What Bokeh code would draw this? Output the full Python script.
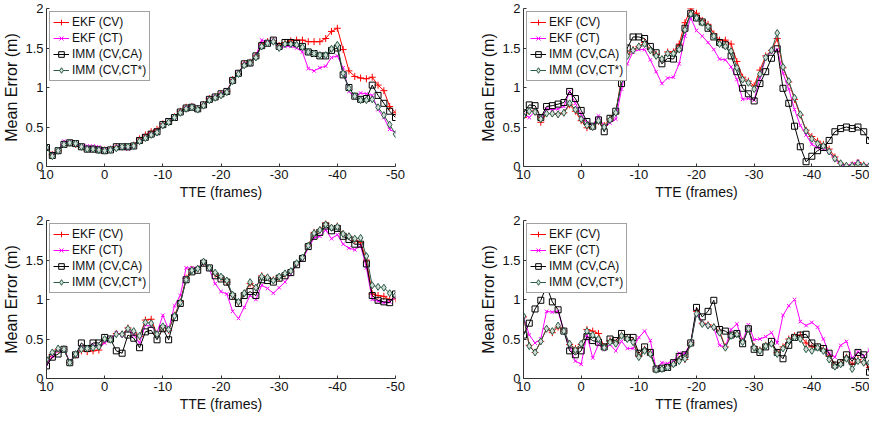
from bokeh.plotting import figure
from bokeh.models import Range1d, FixedTicker, Legend, LegendItem
from bokeh.layouts import column, row
from bokeh.embed import file_html
from bokeh.resources import INLINE

# ---------------- data ----------------
frames = list(range(10, -51, -1))          # TTE (frames), 10 ... -50
x_ticks = [10, 0, -10, -20, -30, -40, -50]
x_tick_labels = ["10", "0", "-10", "-20", "-30", "-40", "-50"]
y_ticks = [0, 0.5, 1, 1.5, 2]
y_tick_labels = ["0", "0.5", "1", "1.5", "2"]
series_names = ["EKF (CV)", "EKF (CT)", "IMM (CV,CA)", "IMM (CV,CT*)"]

# top-left panel
tl_ekf_cv = [0.24, 0.15, 0.20, 0.28, 0.30, 0.28, 0.25, 0.22, 0.22, 0.21,
             0.21, 0.22, 0.25, 0.25, 0.25, 0.27, 0.35, 0.40, 0.44, 0.47,
             0.54, 0.57, 0.63, 0.70, 0.75, 0.76, 0.73, 0.78, 0.86, 0.88,
             0.92, 0.95, 1.10, 1.18, 1.30, 1.32, 1.40, 1.55, 1.58, 1.59,
             1.53, 1.57, 1.59, 1.60, 1.60, 1.58, 1.58, 1.58, 1.62, 1.71,
             1.75, 1.48, 1.21, 1.14, 1.12, 1.11, 1.13, 1.03, 0.96, 0.76,
             0.68]
tl_ekf_ct = [0.23, 0.15, 0.20, 0.32, 0.31, 0.29, 0.26, 0.26, 0.26, 0.25,
             0.21, 0.22, 0.25, 0.25, 0.22, 0.26, 0.33, 0.37, 0.41, 0.44,
             0.53, 0.57, 0.62, 0.69, 0.74, 0.76, 0.72, 0.78, 0.85, 0.88,
             0.92, 0.95, 1.09, 1.18, 1.30, 1.30, 1.40, 1.60, 1.57, 1.60,
             1.50, 1.52, 1.52, 1.50, 1.45, 1.24, 1.21, 1.25, 1.27, 1.38,
             1.40, 1.25, 0.95, 0.88, 0.93, 0.92, 0.90, 0.72, 0.62, 0.47,
             0.43]
tl_imm_ca = [0.24, 0.14, 0.20, 0.28, 0.30, 0.29, 0.25, 0.22, 0.22, 0.21,
             0.20, 0.21, 0.25, 0.25, 0.25, 0.26, 0.33, 0.37, 0.41, 0.44,
             0.53, 0.57, 0.62, 0.69, 0.74, 0.75, 0.73, 0.78, 0.85, 0.88,
             0.92, 0.95, 1.09, 1.18, 1.30, 1.31, 1.40, 1.53, 1.56, 1.60,
             1.52, 1.57, 1.57, 1.56, 1.52, 1.45, 1.43, 1.40, 1.40, 1.47,
             1.50, 1.16, 1.00, 0.89, 0.85, 0.86, 1.03, 0.90, 0.80, 0.70,
             0.62]
tl_imm_ct = [0.24, 0.13, 0.20, 0.28, 0.30, 0.29, 0.25, 0.22, 0.22, 0.21,
             0.20, 0.21, 0.23, 0.25, 0.25, 0.26, 0.32, 0.36, 0.40, 0.43,
             0.52, 0.56, 0.62, 0.68, 0.73, 0.75, 0.72, 0.77, 0.84, 0.87,
             0.90, 0.94, 1.08, 1.17, 1.28, 1.31, 1.38, 1.52, 1.56, 1.58,
             1.50, 1.55, 1.55, 1.54, 1.51, 1.45, 1.43, 1.41, 1.41, 1.49,
             1.54, 1.18, 0.99, 0.89, 0.84, 0.84, 0.85, 0.75, 0.65, 0.53,
             0.41]

# top-right panel
tr_ekf_cv = [0.62, 0.70, 0.70, 0.56, 0.67, 0.67, 0.66, 0.68, 0.78, 0.70,
             0.58, 0.49, 0.50, 0.57, 0.52, 0.60, 0.68, 1.12, 1.42, 1.48,
             1.52, 1.57, 1.48, 1.42, 1.35, 1.45, 1.45, 1.55, 1.82, 2.00,
             1.94, 1.85, 1.80, 1.68, 1.60, 1.60, 1.55, 1.33, 1.13, 1.08,
             1.02, 1.22, 1.40, 1.47, 1.62, 1.25, 1.07, 0.85, 0.65, 0.46,
             0.38, 0.32, 0.28, 0.22, 0.12, 0.04, 0.01, 0.02, 0.05, 0.02,
             0.01]
tr_ekf_ct = [0.66, 0.62, 0.70, 0.60, 0.73, 0.72, 0.73, 0.76, 0.95, 0.80,
             0.66, 0.55, 0.52, 0.64, 0.50, 0.55, 0.60, 0.98, 1.30, 1.45,
             1.48, 1.48, 1.35, 1.20, 1.05, 1.12, 1.13, 1.30, 1.65, 1.88,
             1.72, 1.65, 1.57, 1.48, 1.36, 1.35, 1.26, 1.10, 0.85, 0.86,
             0.84, 1.12, 1.38, 1.45, 1.48, 1.18, 0.98, 0.72, 0.52, 0.40,
             0.28, 0.24, 0.22, 0.18, 0.09, 0.02, 0.01, 0.03, 0.06, 0.01,
             0.02]
tr_imm_ca = [0.68, 0.78, 0.77, 0.62, 0.76, 0.77, 0.79, 0.81, 0.95, 0.86,
             0.71, 0.57, 0.51, 0.59, 0.44, 0.61, 0.70, 1.05, 1.50, 1.64,
             1.64, 1.62, 1.52, 1.44, 1.30, 1.37, 1.36, 1.50, 1.75, 1.94,
             1.88, 1.83, 1.75, 1.64, 1.57, 1.54, 1.40, 1.20, 0.99, 0.92,
             0.83, 1.05, 1.20, 1.37, 1.49, 0.99, 0.80, 0.51, 0.25, 0.06,
             0.13, 0.20, 0.24, 0.33, 0.44, 0.48, 0.50, 0.48, 0.50, 0.44,
             0.33]
tr_imm_ct = [0.64, 0.70, 0.69, 0.60, 0.67, 0.67, 0.66, 0.68, 0.80, 0.72,
             0.60, 0.52, 0.50, 0.58, 0.50, 0.59, 0.68, 1.10, 1.40, 1.47,
             1.52, 1.55, 1.47, 1.40, 1.36, 1.43, 1.43, 1.48, 1.73, 1.93,
             1.88, 1.82, 1.77, 1.65, 1.55, 1.52, 1.46, 1.25, 1.10, 1.06,
             0.98, 1.17, 1.38, 1.47, 1.69, 1.26, 1.08, 0.87, 0.66, 0.45,
             0.35, 0.29, 0.26, 0.19, 0.10, 0.04, 0.01, 0.01, 0.04, 0.01,
             0.01]

# bottom-left panel
bl_ekf_cv = [0.23, 0.30, 0.37, 0.37, 0.20, 0.30, 0.35, 0.34, 0.35, 0.36,
             0.48, 0.50, 0.57, 0.56, 0.64, 0.58, 0.53, 0.74, 0.75, 0.56,
             0.65, 0.61, 0.80, 0.97, 1.27, 1.38, 1.39, 1.47, 1.40, 1.32,
             1.28, 1.22, 1.05, 0.96, 1.08, 1.20, 1.15, 1.30, 1.28, 1.25,
             1.28, 1.32, 1.35, 1.45, 1.52, 1.68, 1.85, 1.88, 1.97, 1.91,
             1.93, 1.83, 1.80, 1.75, 1.72, 1.50, 1.07, 1.05, 1.04, 1.00,
             1.01]
bl_ekf_ct = [0.18, 0.28, 0.35, 0.37, 0.22, 0.30, 0.40, 0.36, 0.42, 0.40,
             0.45, 0.50, 0.58, 0.55, 0.62, 0.55, 0.45, 0.68, 0.66, 0.58,
             0.80, 0.62, 0.92, 1.05, 1.40, 1.40, 1.40, 1.47, 1.38, 1.20,
             1.10, 1.07, 0.85, 0.76, 0.90, 1.05, 1.00, 1.18, 1.14, 1.08,
             1.15, 1.22, 1.32, 1.45, 1.50, 1.65, 1.78, 1.80, 1.88, 1.77,
             1.82, 1.70, 1.65, 1.63, 1.68, 1.40, 1.00, 0.98, 0.96, 0.97,
             1.03]
bl_imm_ca = [0.16, 0.27, 0.31, 0.37, 0.20, 0.30, 0.45, 0.38, 0.45, 0.45,
             0.52, 0.50, 0.35, 0.32, 0.55, 0.51, 0.39, 0.59, 0.61, 0.49,
             0.63, 0.49, 0.77, 0.95, 1.25, 1.35, 1.37, 1.46, 1.40, 1.30,
             1.26, 1.22, 1.04, 0.95, 1.05, 1.10, 1.05, 1.25, 1.24, 1.22,
             1.27, 1.30, 1.34, 1.44, 1.52, 1.67, 1.80, 1.85, 1.93, 1.87,
             1.90, 1.80, 1.76, 1.70, 1.70, 1.45, 1.05, 0.99, 0.97, 0.96,
             1.07]
bl_imm_ct = [0.24, 0.33, 0.38, 0.37, 0.20, 0.31, 0.37, 0.38, 0.39, 0.40,
             0.50, 0.49, 0.56, 0.56, 0.63, 0.60, 0.54, 0.71, 0.70, 0.56,
             0.66, 0.62, 0.79, 0.96, 1.25, 1.37, 1.39, 1.48, 1.40, 1.34,
             1.29, 1.24, 1.06, 0.97, 1.08, 1.22, 1.15, 1.29, 1.28, 1.24,
             1.29, 1.33, 1.36, 1.46, 1.53, 1.68, 1.84, 1.88, 1.95, 1.91,
             1.92, 1.83, 1.80, 1.77, 1.78, 1.55, 1.18, 1.16, 1.15, 1.08,
             1.05]

# bottom-right panel
br_ekf_cv = [0.78, 0.42, 0.33, 0.47, 0.63, 0.58, 0.65, 0.60, 0.43, 0.38,
             0.43, 0.62, 0.60, 0.57, 0.40, 0.48, 0.45, 0.55, 0.51, 0.48,
             0.28, 0.37, 0.32, 0.12, 0.13, 0.15, 0.19, 0.24, 0.24, 0.45,
             0.85, 0.70, 0.68, 0.65, 0.60, 0.40, 0.55, 0.57, 0.47, 0.63,
             0.40, 0.36, 0.42, 0.45, 0.33, 0.40, 0.50, 0.54, 0.55, 0.45,
             0.40, 0.40, 0.37, 0.28, 0.17, 0.20, 0.27, 0.18, 0.24, 0.20,
             0.14]
br_ekf_ct = [0.78, 0.55, 0.45, 0.50, 0.85, 0.84, 0.85, 0.60, 0.40, 0.22,
             0.18, 0.55, 0.26, 0.43, 0.37, 0.43, 0.35, 0.47, 0.38, 0.38,
             0.52, 0.60, 0.48, 0.12, 0.20, 0.19, 0.22, 0.32, 0.32, 0.45,
             0.85, 0.70, 0.67, 0.64, 0.42, 0.40, 0.62, 0.69, 0.47, 0.68,
             0.49, 0.50, 0.53, 0.58, 0.45, 0.80, 0.92, 1.00, 0.72, 0.67,
             0.71, 0.65, 0.50, 0.32, 0.27, 0.42, 0.47, 0.26, 0.34, 0.28,
             0.36]
br_imm_ca = [0.55, 0.70, 0.88, 0.99, 1.17, 0.97, 0.87, 0.60, 0.35, 0.30,
             0.35, 0.53, 0.48, 0.46, 0.40, 0.50, 0.48, 0.57, 0.52, 0.52,
             0.32, 0.40, 0.33, 0.12, 0.13, 0.14, 0.20, 0.28, 0.30, 0.45,
             0.90, 0.78, 0.85, 0.99, 0.62, 0.60, 0.55, 0.57, 0.44, 0.63,
             0.37, 0.33, 0.40, 0.47, 0.33, 0.25, 0.42, 0.52, 0.55, 0.56,
             0.45, 0.40, 0.38, 0.32, 0.17, 0.20, 0.30, 0.22, 0.33, 0.30,
             0.08]
br_imm_ct = [0.79, 0.41, 0.33, 0.47, 0.63, 0.60, 0.67, 0.60, 0.44, 0.36,
             0.44, 0.60, 0.55, 0.50, 0.39, 0.46, 0.44, 0.54, 0.50, 0.46,
             0.27, 0.35, 0.31, 0.11, 0.12, 0.14, 0.18, 0.22, 0.25, 0.44,
             0.82, 0.69, 0.67, 0.65, 0.58, 0.39, 0.54, 0.56, 0.46, 0.63,
             0.39, 0.35, 0.41, 0.44, 0.31, 0.38, 0.48, 0.52, 0.50, 0.37,
             0.35, 0.39, 0.35, 0.24, 0.15, 0.18, 0.25, 0.12, 0.22, 0.20,
             0.20]

# ---------------- styling ----------------
FONT = "Liberation Sans"
line_colors = ["#ff0000", "#ff00ff", "#000000", "#2a5c47"]
markers = ["cross", "x", "square", "diamond"]
marker_sizes = [7, 5, 6, 7]
fill_colors = [None, None, None, "#d3ddd7"]


def make_panel(series, left, frame_w, right, top, bottom):
    p = figure(frame_width=frame_w, frame_height=158,
               min_border_left=left, min_border_right=right,
               min_border_top=top, min_border_bottom=bottom,
               x_range=Range1d(10, -50), y_range=Range1d(0, 2),
               output_backend="svg", toolbar_location=None,
               background_fill_color="white", border_fill_color="white")
    p.outline_line_color = None
    p.xgrid.visible = False
    p.ygrid.visible = False

    p.xaxis.ticker = FixedTicker(ticks=x_ticks)
    p.xaxis.major_label_overrides = dict(zip(x_ticks, x_tick_labels))
    p.yaxis.ticker = FixedTicker(ticks=y_ticks)
    p.yaxis.major_label_overrides = dict(zip(y_ticks, y_tick_labels))
    p.xaxis.axis_label = "TTE (frames)"
    p.yaxis.axis_label = "Mean Error (m)"
    for ax in (p.xaxis, p.yaxis):
        ax.axis_line_color = "#333333"
        ax.major_tick_line_color = "#333333"
        ax.major_tick_in = 3
        ax.major_tick_out = 0
        ax.minor_tick_line_color = None
        ax.major_label_text_font = FONT
        ax.major_label_text_font_size = "13px"
        ax.major_label_text_color = "#111111"
        ax.axis_label_text_font = FONT
        ax.axis_label_text_font_style = "normal"
        ax.axis_label_text_color = "#111111"
        ax.major_label_standoff = 3
        ax.axis_label_standoff = 2
    p.xaxis.axis_label_text_font_size = "14px"
    p.yaxis.axis_label_text_font_size = "16px"

    items = []
    for vals, name, col, mk, ms, fc in zip(series, series_names, line_colors,
                                            markers, marker_sizes, fill_colors):
        lr = p.line(frames, vals, line_color=col, line_width=1)
        sr = p.scatter(frames, vals, marker=mk, size=ms, line_color=col,
                       fill_color=fc, line_width=1)
        items.append(LegendItem(label=name, renderers=[lr, sr]))

    leg = Legend(items=items, location="top_left")
    leg.margin = 3
    leg.padding = 3
    leg.spacing = 2
    leg.glyph_height = 14
    leg.label_height = 14
    leg.glyph_width = 16
    leg.label_standoff = 3
    leg.label_text_font = FONT
    leg.label_text_font_size = "12px"
    leg.label_text_color = "#111111"
    leg.border_line_color = "#444444"
    leg.border_line_width = 1
    leg.background_fill_color = "white"
    leg.background_fill_alpha = 1.0
    p.add_layout(leg)
    return p


p_tl = make_panel([tl_ekf_cv, tl_ekf_ct, tl_imm_ca, tl_imm_ct], 40, 349, 82, 8, 46)
p_tr = make_panel([tr_ekf_cv, tr_ekf_ct, tr_imm_ca, tr_imm_ct], 40, 346, 0, 8, 46)
p_bl = make_panel([bl_ekf_cv, bl_ekf_ct, bl_imm_ca, bl_imm_ct], 40, 349, 82, 8, 34)
p_br = make_panel([br_ekf_cv, br_ekf_ct, br_imm_ca, br_imm_ct], 40, 346, 0, 8, 34)

layout = column(row(p_tl, p_tr, spacing=0), row(p_bl, p_br, spacing=0), spacing=0)

open("out.html", "w").write(file_html(layout, INLINE))
